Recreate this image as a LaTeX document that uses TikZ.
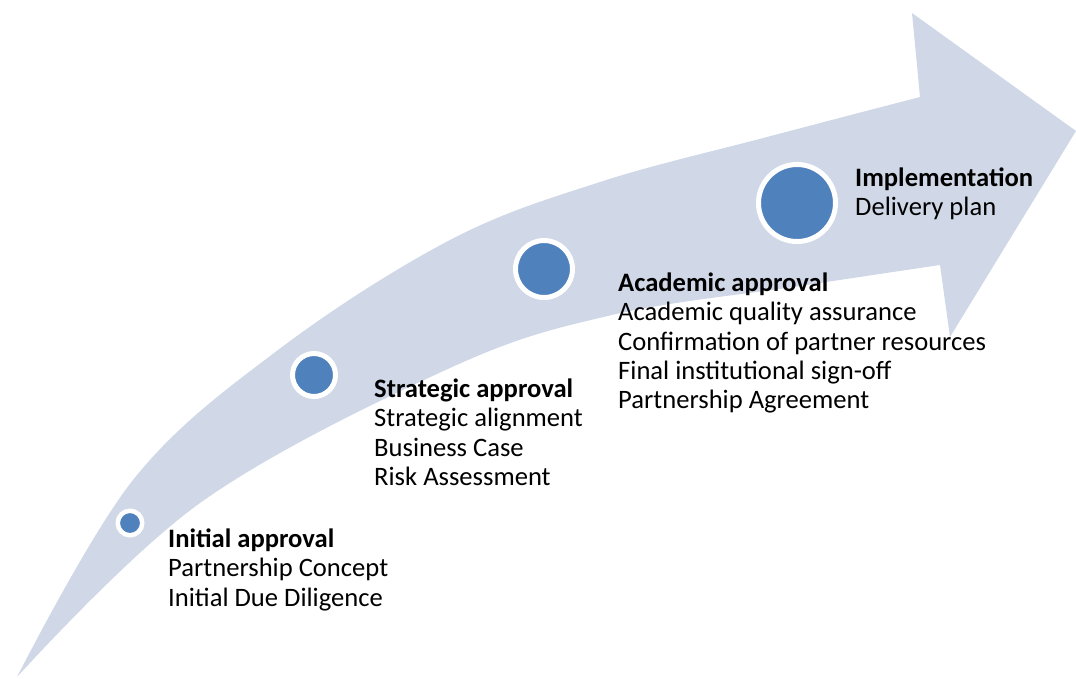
\documentclass[tikz,border=0pt]{standalone}
\usepackage{fontspec}
\setmainfont{Carlito}
\definecolor{bandcol}{HTML}{D0D8E8}
\definecolor{dotcol}{HTML}{4F81BD}
\begin{document}
\begin{tikzpicture}[x=1pt,y=-1pt,
  dot/.style={circle,fill=dotcol,draw=white,line width=5pt,inner sep=0pt},
  stage/.style={anchor=base west,align=left,inner sep=0pt,font=\fontsize{26.6}{29.3}\selectfont}]
\useasboundingbox (0,0) rectangle (1076,678);
\fill[bandcol] plot[smooth,tension=0.6] coordinates {(17,677) (133,480) (278,350) (450,240) (600,182) (767,137) (920,97)}
  -- (912,13) -- (1076,131) -- (950,337) --
  plot[smooth,tension=0.6] coordinates {(940,265) (800,286) (612,315) (450,368) (200,503) (17,677)} -- cycle;
\node[dot,line width=4.5pt,minimum size=24.5pt] (d1) at (130,523) {};
\node[dot,minimum size=43pt] (d2) at (314,375) {};
\node[dot,minimum size=57pt] (d3) at (544,269) {};
\node[dot,minimum size=77pt] (d4) at (797,203) {};
\node[stage] (t1) at (168,606.1) {\textbf{Initial approval}\\Partnership Concept\\Initial Due Diligence};
\node[stage] (t2) at (374,485.4) {\textbf{Strategic approval}\\Strategic alignment\\Business Case\\Risk Assessment};
\node[stage] (t3) at (618,408.7) {\textbf{Academic approval}\\Academic quality assurance\\Confirmation of partner resources\\Final institutional sign-off\\Partnership Agreement};
\node[stage] (t4) at (855,215.3) {\textbf{Implementation}\\Delivery plan};
\end{tikzpicture}
\end{document}
